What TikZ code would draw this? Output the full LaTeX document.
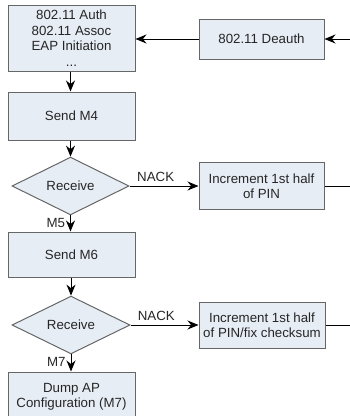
\documentclass[tikz,border=0pt]{standalone}
\usepackage{fontspec}
\setmainfont{Liberation Sans}
\usetikzlibrary{shapes.geometric,arrows.meta}
\definecolor{boxfill}{HTML}{E7EDF5}
\definecolor{boxline}{HTML}{666666}
\definecolor{txt}{HTML}{262626}
\begin{document}
\begin{tikzpicture}[x=1pt,y=-1pt,
  every node/.style={font=\fontsize{13.3}{15.5}\selectfont, text=txt},
  stepbox/.style={draw=boxline, fill=boxfill, line width=1pt, rectangle, align=center, inner sep=0pt},
  decision/.style={draw=boxline, fill=boxfill, line width=1pt, diamond, inner sep=0pt, align=center},
  flow/.style={draw=black, line width=1pt, -{Stealth[length=11pt,width=9pt]}},
  plain/.style={draw=black, line width=1pt},
  lbl/.style={inner sep=0pt}]
\useasboundingbox (0,0) rectangle (350,416);
\clip (0,0) rectangle (350,416);
\fill[white] (0,0) rectangle (350,416);

\node[stepbox, minimum width=127pt, minimum height=66pt] (b1) at (71.5,38) {802.11 Auth\\802.11 Assoc\\EAP Initiation\\...};
\node[stepbox, minimum width=125pt, minimum height=40pt] (deauth) at (261.5,39) {802.11 Deauth};
\node[stepbox, minimum width=127pt, minimum height=48pt] (m4) at (71.5,116) {Send M4};
\node[decision, minimum width=117pt, minimum height=52pt] (d1) at (70.5,186) {Receive};
\node[stepbox, minimum width=125pt, minimum height=47pt] (inc1) at (261.5,186) {Increment 1st half\\of PIN};
\node[stepbox, minimum width=127pt, minimum height=45pt] (m6) at (71.5,254.5) {Send M6};
\node[decision, minimum width=118pt, minimum height=52pt] (d2) at (71,325) {Receive};
\node[stepbox, minimum width=126pt, minimum height=46pt] (inc2) at (262,325) {Increment 1st half\\of PIN/fix checksum};
\node[stepbox, minimum width=127pt, minimum height=50pt] (dump) at (71.5,397) {Dump AP\\Configuration (M7)};

\coordinate (r0) at (352,39);
\coordinate (r1) at (352,186);
\coordinate (r2) at (352,325);

\draw[flow] (r0) -- (deauth.east);
\draw[flow] (deauth.west) -- (b1.east |- deauth.west);
\draw[flow] (b1.south -| d1.north) -- (m4.north -| d1.north);
\draw[flow] (m4.south -| d1.north) -- (d1.north);
\draw[flow] (d1.east) -- node[lbl, above=4pt, pos=0.38] {NACK} (inc1.west |- d1.east);
\draw[plain] (inc1.east) -- (r1);
\draw[flow] (d1.south) -- node[lbl, left=5pt, pos=0.45] {M5} (m6.north -| d1.south);
\draw[flow] (m6.south -| d2.north) -- (d2.north);
\draw[flow] (d2.east) -- node[lbl, above=4pt, pos=0.38] {NACK} (inc2.west |- d2.east);
\draw[plain] (inc2.east) -- (r2);
\draw[flow] (d2.south) -- node[lbl, left=5pt, pos=0.45] {M7} (dump.north -| d2.south);
\end{tikzpicture}
\end{document}
